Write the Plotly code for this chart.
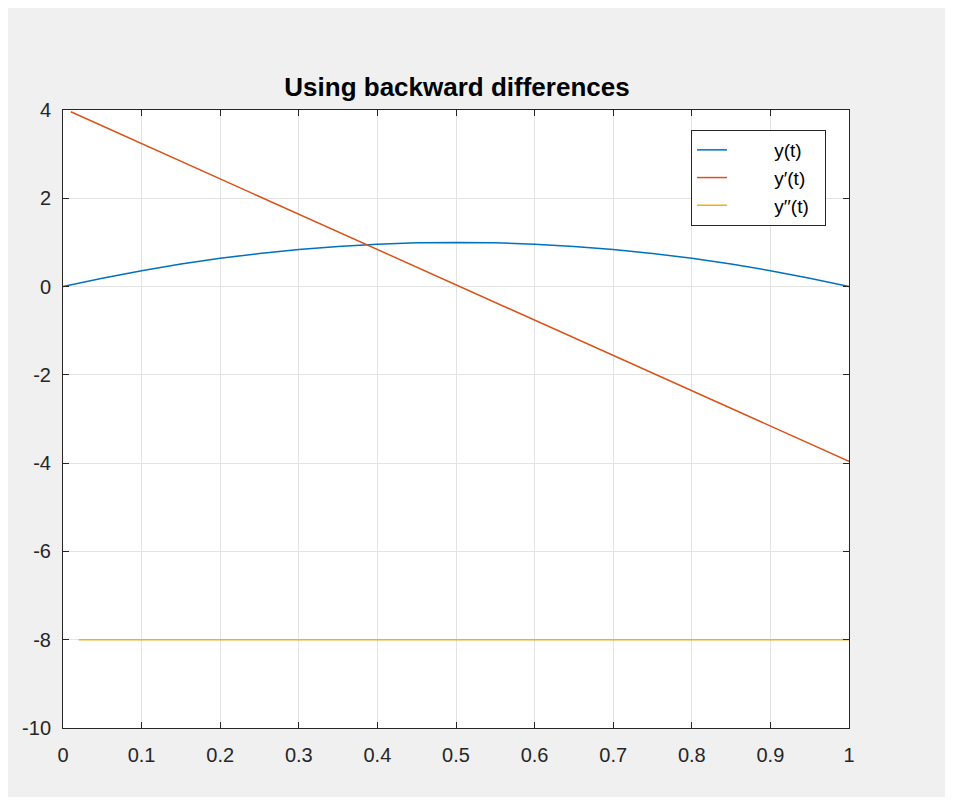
import plotly.graph_objects as go

# y(t)
t_y = [0.00, 0.05, 0.10, 0.15, 0.20, 0.25, 0.30, 0.35, 0.40, 0.45, 0.50,
       0.55, 0.60, 0.65, 0.70, 0.75, 0.80, 0.85, 0.90, 0.95, 1.00]
y_vals = [0.00, 0.19, 0.36, 0.51, 0.64, 0.75, 0.84, 0.91, 0.96, 0.99, 1.00,
          0.99, 0.96, 0.91, 0.84, 0.75, 0.64, 0.51, 0.36, 0.19, 0.00]

# y'(t) (backward differences) — straight line
t_dy = [0.01, 0.50, 1.00]
dy_vals = [3.96, 0.04, -3.96]

# y''(t) — constant
t_ddy = [0.02, 1.00]
ddy_vals = [-8.0, -8.0]

series_names = ["y(t)", "y′(t)", "y′′(t)"]

x_ticks = [0, 0.1, 0.2, 0.3, 0.4, 0.5, 0.6, 0.7, 0.8, 0.9, 1]
x_tick_text = ["0", "0.1", "0.2", "0.3", "0.4", "0.5", "0.6", "0.7", "0.8", "0.9", "1"]
y_ticks = [-10, -8, -6, -4, -2, 0, 2, 4]
y_tick_text = ["-10", "-8", "-6", "-4", "-2", "0", "2", "4"]

# figure sits at (8, 8) in the page (body margin)
W, H = 937, 789
L, R, T, B = 55, 96, 102, 69
pw, ph = W - L - R, H - T - B

def px(x):
    return (x - L) / pw

def py(y):
    return (H - B - y) / ph

FONT = "Liberation Sans, Arial, Helvetica, sans-serif"
PAD = "\u00a0" * 8

def label(name, width):
    return PAD + name + "\u00a0" * (width - len(name))

fig = go.Figure()
fig.add_trace(go.Scatter(x=t_y, y=y_vals, mode="lines", name=label(series_names[0], 7),
                         line=dict(color="#0072BD", width=1.5)))
fig.add_trace(go.Scatter(x=t_dy, y=dy_vals, mode="lines", name=label(series_names[1], 7),
                         line=dict(color="#D95319", width=1.5)))
fig.add_trace(go.Scatter(x=t_ddy, y=ddy_vals, mode="lines", name=label(series_names[2], 8),
                         line=dict(color="#EDB120", width=1.5)))

axis_common = dict(
    showline=True, mirror="allticks", linecolor="#262626", linewidth=1,
    ticks="inside", ticklen=6, tickcolor="#262626",
    showgrid=True, gridcolor="#e3e3e3", gridwidth=1,
    zeroline=False,
    tickfont=dict(family=FONT, size=20, color="#262626"),
)

fig.update_xaxes(range=[0, 1], tickvals=x_ticks, ticktext=x_tick_text,
                 ticklabelstandoff=9, **axis_common)
fig.update_yaxes(range=[-10, 4], tickvals=y_ticks, ticktext=y_tick_text,
                 ticklabelstandoff=7, **axis_common)

fig.update_layout(
    width=W, height=H,
    margin=dict(l=L, r=R, t=T, b=B, pad=0),
    paper_bgcolor="#f0f0f0",
    plot_bgcolor="white",
    title=dict(text="<b>Using backward differences</b>", x=449 / W, xanchor="center",
               y=1 - 79 / H, yanchor="middle",
               font=dict(family=FONT, size=26, color="#000000")),
    legend=dict(x=px(683), y=py(122), xanchor="left", yanchor="top",
                bgcolor="white", bordercolor="#262626", borderwidth=1,
                font=dict(family=FONT, size=19, color="#000000")),
)

fig.write_html("out.html")
